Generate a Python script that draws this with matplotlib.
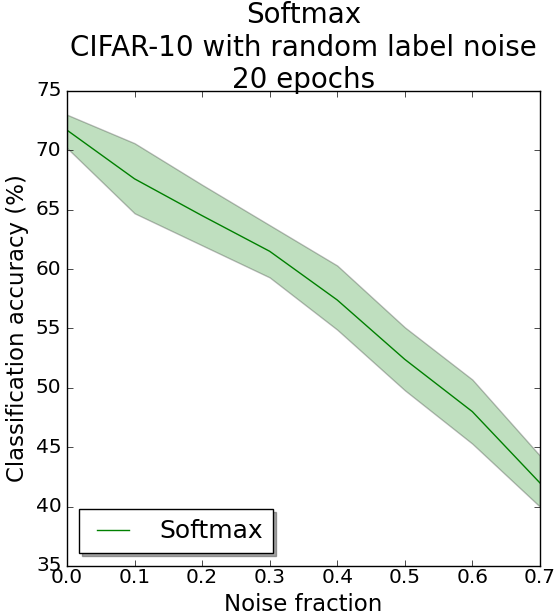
import matplotlib
matplotlib.use("Agg")
import matplotlib.pyplot as plt

plt.style.use("classic")
plt.rcParams["font.size"] = 16
plt.rcParams["xtick.labelsize"] = 14.5
plt.rcParams["ytick.labelsize"] = 14.5
plt.rcParams["xtick.major.pad"] = 1.5

noise_fraction = [0.0, 0.1, 0.2, 0.3, 0.4, 0.5, 0.6, 0.7]
mean_accuracy = [71.7, 67.6, 64.5, 61.5, 57.4, 52.4, 48.0, 42.0]
upper_accuracy = [73.0, 70.6, 67.1, 63.7, 60.3, 55.1, 50.7, 44.3]
lower_accuracy = [70.2, 64.7, 62.0, 59.3, 54.9, 49.8, 45.3, 40.0]

fig = plt.figure(figsize=(5.56, 6.15), dpi=100)
ax = fig.add_axes([0.1205, 0.0797, 0.8505, 0.7724])

ax.fill_between(noise_fraction, lower_accuracy, upper_accuracy,
                facecolor="green", edgecolor="black", alpha=0.25)
ax.plot(noise_fraction, mean_accuracy, color="green", label="Softmax")

ax.set_xlim(0.0, 0.7)
ax.set_ylim(35, 75)
ax.set_xlabel("Noise fraction", fontsize=16.5, labelpad=4)
ax.set_ylabel("Classification accuracy (%)", fontsize=16.5)
ax.set_title("Softmax\nCIFAR-10 with random label noise\n20 epochs",
             fontsize=20, pad=2)
ax.legend(loc="lower left", shadow=True, prop={"size": 18},
          handlelength=1.9, handletextpad=0.9)

fig.savefig("out.png", dpi=100)
